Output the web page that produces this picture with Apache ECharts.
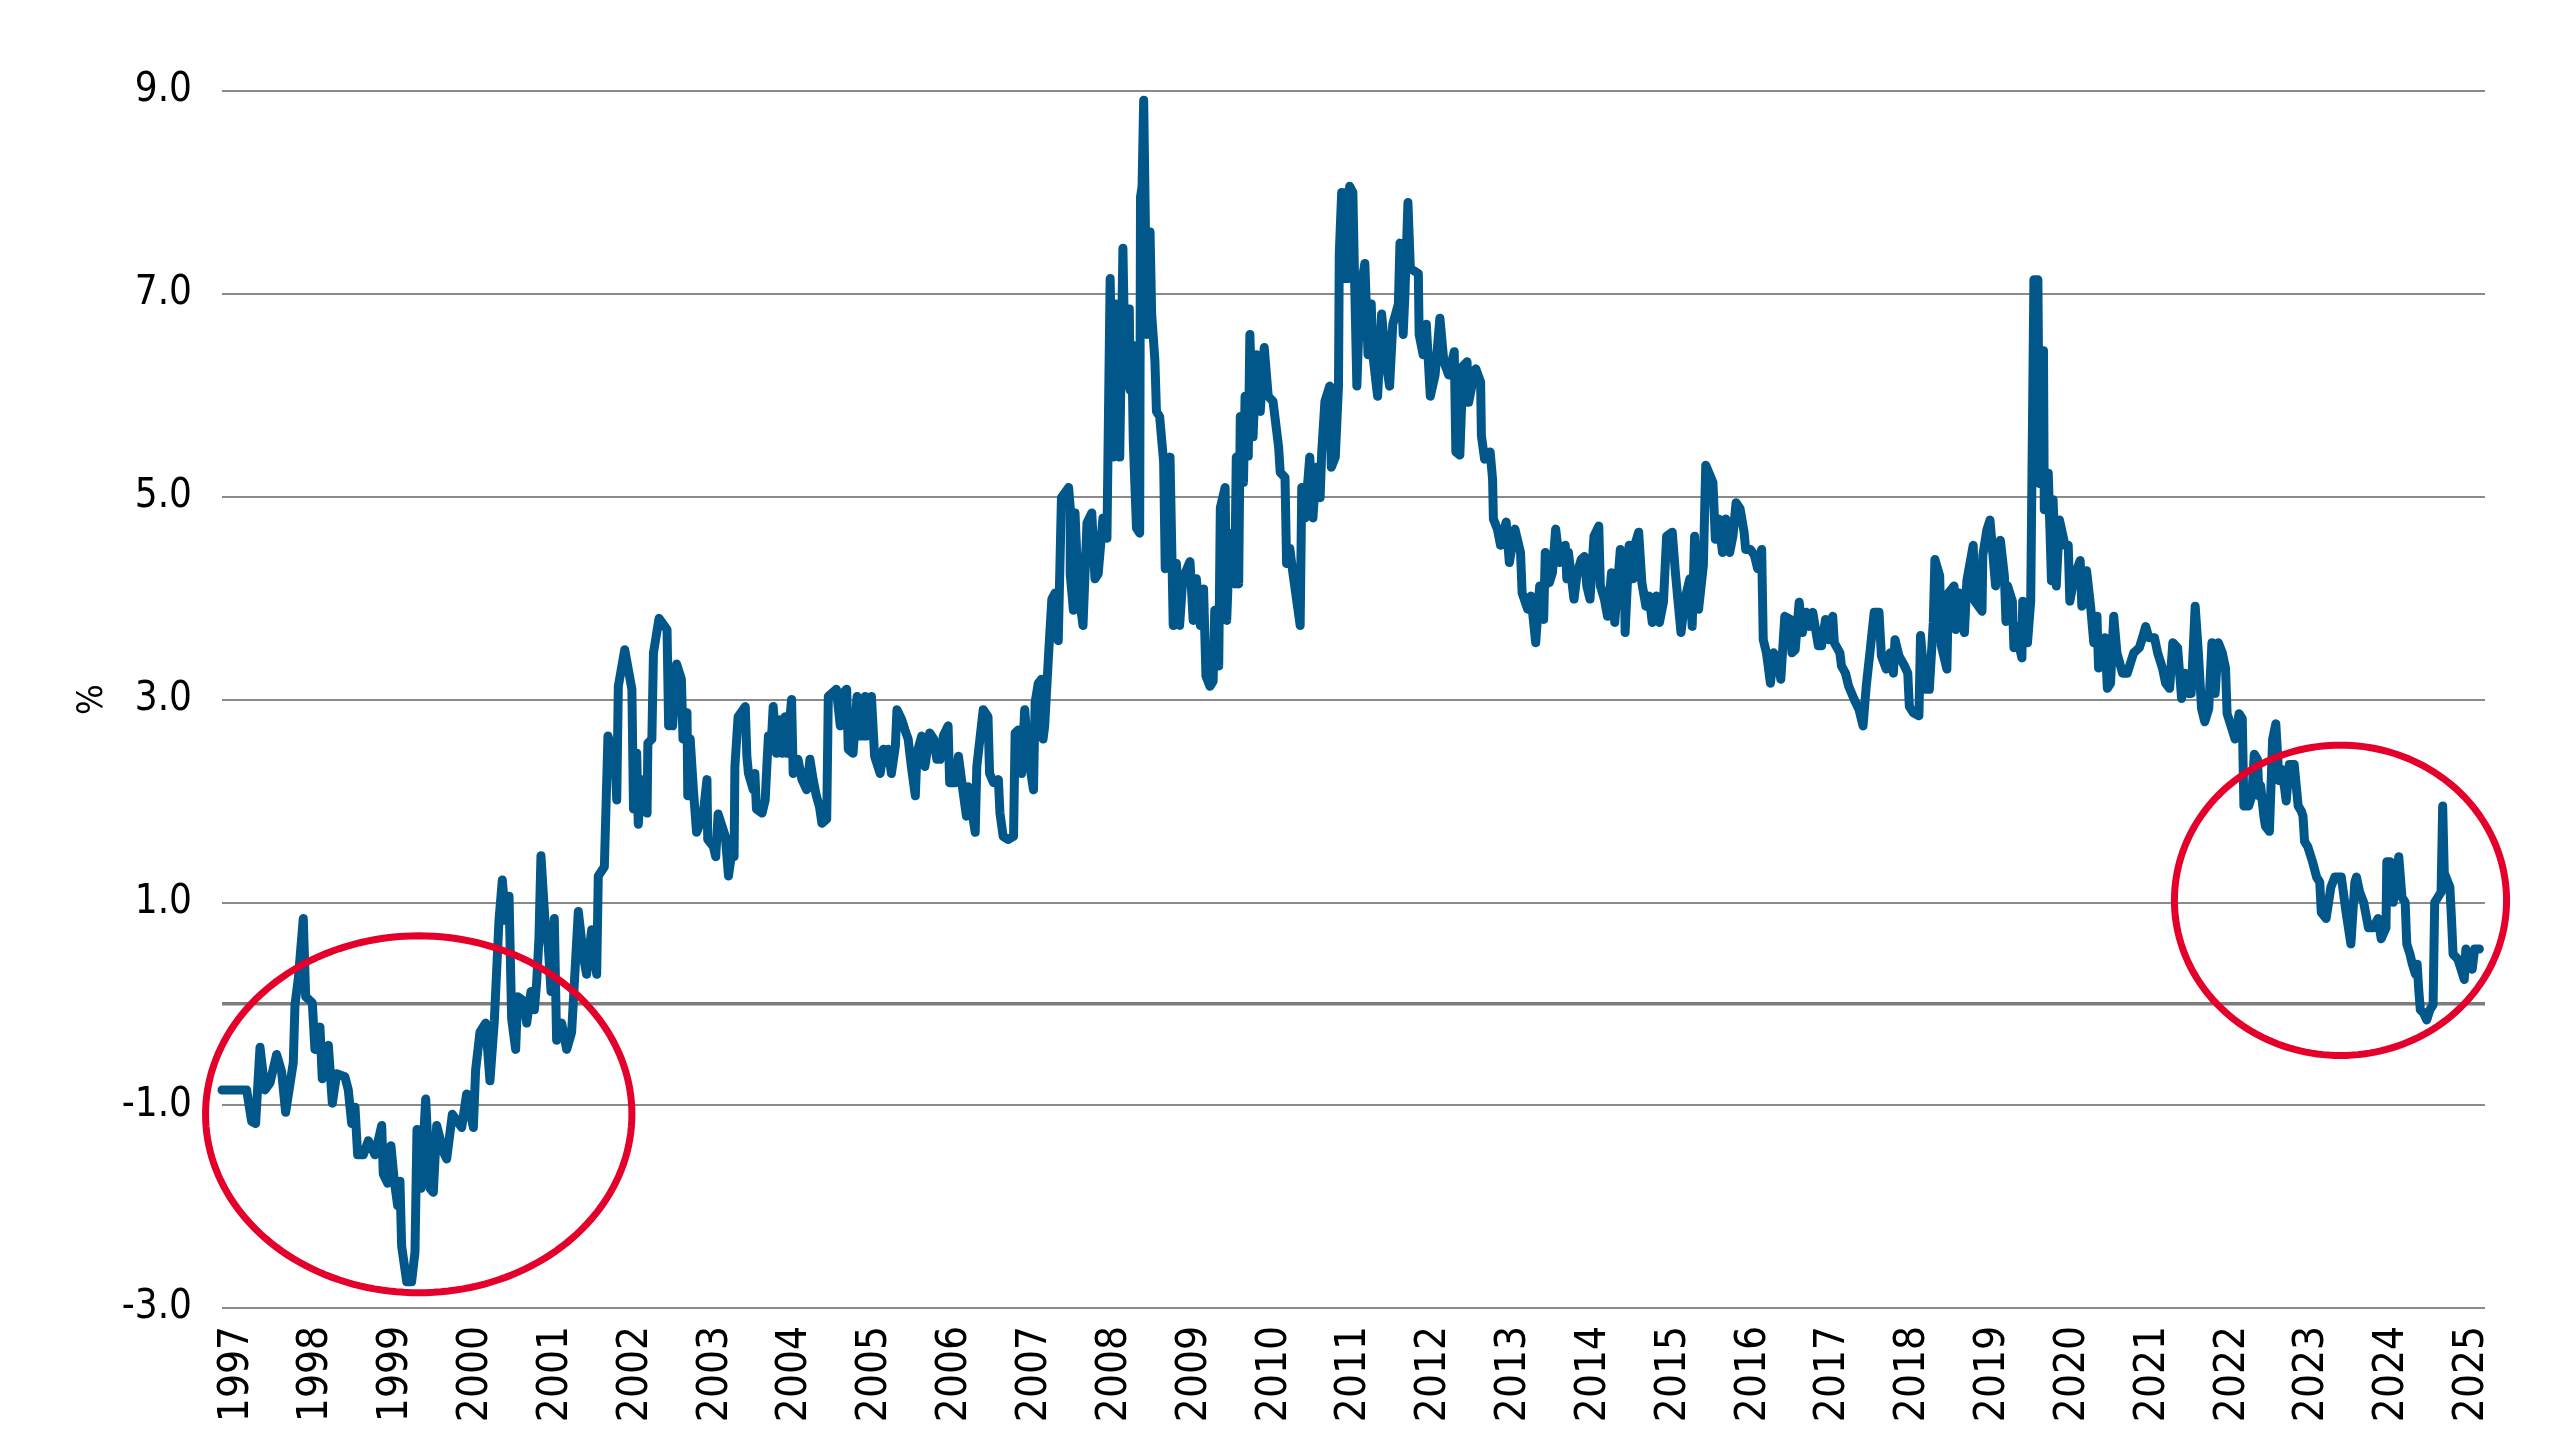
<!DOCTYPE html>
<html>
<head>
<meta charset="utf-8">
<script src="https://cdn.jsdelivr.net/npm/echarts@6/dist/echarts.min.js"></script>
<style>
html,body{margin:0;padding:0;background:#fff;}
#chart{width:2560px;height:1440px;}
</style>
</head>
<body>
<div id="chart"></div>
<script>
// ---- Data (decimal year, %) ----
const yearLabels = [1997,1998,1999,2000,2001,2002,2003,2004,2005,2006,2007,2008,2009,2010,2011,2012,2013,2014,2015,2016,2017,2018,2019,2020,2021,2022,2023,2024,2025];
const yTicks = [-3, -1, 1, 3, 5, 7, 9];

const s1997_2001 = [[1996.816,-0.85],[1997.125,-0.85],[1997.187,-1.16],[1997.237,-1.18],[1997.292,-0.43],[1997.354,-0.85],[1997.417,-0.78],[1997.500,-0.50],[1997.563,-0.67],[1997.613,-1.07],[1997.709,-0.58],[1997.730,-0.01],[1997.772,0.25],[1997.834,0.84],[1997.864,0.07],[1997.947,0.01],[1997.980,-0.45],[1998.043,-0.23],[1998.072,-0.74],[1998.148,-0.41],[1998.198,-0.98],[1998.252,-0.69],[1998.356,-0.72],[1998.398,-0.85],[1998.440,-1.18],[1998.482,-1.02],[1998.515,-1.49],[1998.586,-1.49],[1998.649,-1.35],[1998.732,-1.49],[1998.816,-1.20],[1998.836,-1.68],[1998.891,-1.77],[1998.932,-1.40],[1998.974,-1.75],[1999.016,-1.99],[1999.045,-1.75],[1999.066,-2.39],[1999.129,-2.74],[1999.191,-2.74],[1999.233,-2.45],[1999.258,-1.24],[1999.308,-1.82],[1999.367,-0.94],[1999.421,-1.82],[1999.463,-1.86],[1999.505,-1.20],[1999.588,-1.46],[1999.630,-1.53],[1999.701,-1.09],[1999.818,-1.22],[1999.880,-0.89],[1999.964,-1.22],[1999.993,-0.65],[2000.047,-0.28],[2000.118,-0.19],[2000.172,-0.76],[2000.227,-0.17],[2000.285,0.82],[2000.327,1.22],[2000.369,0.82],[2000.411,1.06],[2000.444,-0.15],[2000.494,-0.45],[2000.519,0.07],[2000.590,0.03],[2000.632,-0.19],[2000.686,0.12],[2000.728,-0.06],[2000.757,0.21],[2000.786,0.65],[2000.811,1.46],[2000.861,0.82],[2000.903,0.56],[2000.937,0.12],[2000.978,0.84],[2001.007,-0.36],[2001.070,-0.19],[2001.133,-0.45],[2001.195,-0.28],[2001.279,0.91],[2001.342,0.47],[2001.383,0.29],[2001.446,0.73],[2001.509,0.29],[2001.529,1.26],[2001.605,1.35]];

const s2001_2007 = [[2001.65,2.64],[2001.74,2.41],[2001.76,2.01],[2001.78,3.13],[2001.86,3.49],[2001.95,3.10],[2001.97,1.92],[2002.01,2.47],[2002.03,1.77],[2002.07,2.21],[2002.14,1.88],[2002.15,2.57],[2002.20,2.61],[2002.22,3.46],[2002.29,3.80],[2002.39,3.69],[2002.41,2.74],[2002.45,3.20],[2002.46,2.74],[2002.51,3.35],[2002.57,3.20],[2002.59,2.61],[2002.64,2.87],[2002.65,2.05],[2002.68,2.61],[2002.72,2.11],[2002.76,1.69],[2002.84,1.85],[2002.89,2.21],[2002.90,1.62],[2002.97,1.55],[2003.00,1.45],[2003.03,1.87],[2003.12,1.65],[2003.16,1.26],[2003.20,1.49],[2003.23,1.45],[2003.24,2.34],[2003.28,2.83],[2003.37,2.93],[2003.39,2.44],[2003.41,2.27],[2003.47,2.11],[2003.49,2.27],[2003.51,1.92],[2003.58,1.88],[2003.62,2.01],[2003.64,2.34],[2003.66,2.64],[2003.70,2.64],[2003.72,2.93],[2003.76,2.47],[2003.80,2.80],[2003.83,2.47],[2003.87,2.83],[2003.89,2.47],[2003.95,3.00],[2003.97,2.27],[2004.03,2.41],[2004.08,2.21],[2004.14,2.11],[2004.18,2.41],[2004.22,2.21],[2004.26,2.05],[2004.30,1.94],[2004.33,1.78],[2004.39,1.82],[2004.40,1.82],[2004.41,3.03],[2004.51,3.10],[2004.56,2.74],[2004.60,3.07],[2004.64,3.10],[2004.66,2.51],[2004.72,2.47],[2004.77,3.03],[2004.81,2.64],[2004.85,2.64],[2004.87,3.03],[2004.89,2.64],[2004.95,3.03],[2004.99,2.44],[2005.06,2.27],[2005.10,2.51],[2005.14,2.38],[2005.16,2.51],[2005.20,2.27],[2005.25,2.54],[2005.27,2.90],[2005.33,2.80],[2005.37,2.70],[2005.41,2.61],[2005.45,2.34],[2005.50,2.05],[2005.52,2.47],[2005.58,2.64],[2005.62,2.34],[2005.68,2.67],[2005.73,2.61],[2005.77,2.41],[2005.81,2.41],[2005.85,2.64],[2005.91,2.74],[2005.93,2.18],[2006.00,2.18],[2006.04,2.44],[2006.10,2.08],[2006.14,1.85],[2006.16,2.14],[2006.25,1.69],[2006.27,2.34],[2006.35,2.90],[2006.41,2.83],[2006.43,2.27],[2006.48,2.18],[2006.54,2.21],[2006.56,1.88],[2006.60,1.65],[2006.66,1.62],[2006.73,1.65],[2006.75,2.67],[2006.79,2.70],[2006.83,2.27],[2006.87,2.90],[2006.91,2.47],[2006.98,2.11],[2007.00,2.97],[2007.04,3.16],[2007.08,3.20],[2007.10,2.61],[2007.12,2.74],[2007.17,3.46],[2007.21,3.99],[2007.25,4.05]];

const s2007_2012 = [[2007.29,3.58],[2007.33,4.99],[2007.42,5.09],[2007.44,4.89],[2007.44,4.24],[2007.48,3.88],[2007.50,4.84],[2007.54,4.09],[2007.60,3.73],[2007.65,4.74],[2007.71,4.84],[2007.75,4.19],[2007.79,4.24],[2007.85,4.79],[2007.90,4.59],[2007.94,7.15],[2007.98,5.39],[2008.01,6.90],[2008.06,5.39],[2008.10,7.45],[2008.13,6.10],[2008.18,6.85],[2008.19,6.05],[2008.21,6.50],[2008.23,5.54],[2008.27,4.69],[2008.31,4.64],[2008.32,7.95],[2008.34,8.06],[2008.36,8.91],[2008.40,6.60],[2008.44,7.61],[2008.46,6.80],[2008.50,6.35],[2008.52,5.84],[2008.56,5.79],[2008.61,5.34],[2008.63,4.29],[2008.66,5.10],[2008.69,5.39],[2008.73,3.73],[2008.77,4.34],[2008.81,3.73],[2008.85,4.19],[2008.94,4.36],[2008.98,3.78],[2009.02,4.19],[2009.07,3.73],[2009.11,4.09],[2009.14,3.23],[2009.19,3.13],[2009.23,3.18],[2009.25,3.88],[2009.30,3.33],[2009.32,4.89],[2009.38,5.09],[2009.40,3.78],[2009.44,4.64],[2009.50,4.14],[2009.52,5.39],[2009.55,4.14],[2009.57,5.79],[2009.61,5.14],[2009.63,5.99],[2009.67,5.40],[2009.69,6.60],[2009.73,5.59],[2009.77,6.40],[2009.82,5.84],[2009.87,6.47],[2009.92,5.99],[2009.98,5.94],[2010.05,5.49],[2010.07,5.24],[2010.13,5.19],[2010.15,4.34],[2010.19,4.49],[2010.23,4.24],[2010.32,3.73],[2010.34,5.09],[2010.38,4.79],[2010.44,5.39],[2010.48,4.79],[2010.52,5.29],[2010.57,4.99],[2010.59,5.44],[2010.63,5.94],[2010.69,6.09],[2010.71,5.29],[2010.76,5.39],[2010.80,6.09],[2010.81,7.40],[2010.84,8.00],[2010.88,7.15],[2010.90,8.00],[2010.92,7.15],[2010.94,8.06],[2010.98,8.00],[2011.00,7.20],[2011.03,6.09],[2011.07,7.00],[2011.13,7.30],[2011.17,6.40],[2011.21,6.90],[2011.23,6.40],[2011.29,5.99],[2011.34,6.80],[2011.40,6.30],[2011.44,6.09],[2011.48,6.70],[2011.55,6.90],[2011.57,7.50],[2011.61,6.60],[2011.63,6.95],[2011.67,7.90],[2011.70,7.25],[2011.80,7.20],[2011.81,6.60],[2011.86,6.40],[2011.90,6.70],[2011.95,5.99],[2012.01,6.20]];

const s2012_2018 = [[2012.07,6.76],[2012.12,6.33],[2012.18,6.20],[2012.25,6.43],[2012.27,5.44],[2012.32,5.41],[2012.36,6.29],[2012.41,6.33],[2012.43,5.93],[2012.48,6.13],[2012.52,6.26],[2012.58,6.13],[2012.59,5.60],[2012.63,5.37],[2012.70,5.44],[2012.73,5.17],[2012.74,4.78],[2012.79,4.68],[2012.83,4.52],[2012.90,4.75],[2012.94,4.35],[2013.01,4.68],[2013.08,4.45],[2013.10,4.05],[2013.17,3.89],[2013.21,4.02],[2013.27,3.56],[2013.32,4.12],[2013.37,3.79],[2013.39,4.45],[2013.44,4.15],[2013.48,4.25],[2013.52,4.68],[2013.57,4.35],[2013.64,4.52],[2013.66,4.19],[2013.68,4.45],[2013.75,3.99],[2013.79,4.25],[2013.84,4.38],[2013.88,4.41],[2013.91,4.12],[2013.95,3.99],[2014.00,4.61],[2014.06,4.71],[2014.08,4.12],[2014.13,3.99],[2014.17,3.82],[2014.22,4.25],[2014.26,3.76],[2014.33,4.48],[2014.38,4.32],[2014.39,3.66],[2014.44,4.52],[2014.49,4.19],[2014.51,4.52],[2014.56,4.65],[2014.60,4.15],[2014.65,3.92],[2014.69,4.02],[2014.73,3.76],[2014.78,4.02],[2014.82,3.76],[2014.87,3.96],[2014.91,4.61],[2014.98,4.65],[2015.02,4.25],[2015.05,3.99],[2015.09,3.66],[2015.14,3.99],[2015.20,4.19],[2015.23,3.72],[2015.26,4.61],[2015.31,3.89],[2015.37,4.32],[2015.40,5.31],[2015.49,5.14],[2015.52,4.58],[2015.56,4.78],[2015.61,4.45],[2015.65,4.78],[2015.70,4.45],[2015.74,4.61],[2015.78,4.94],[2015.83,4.88],[2015.88,4.65],[2015.90,4.48],[2015.96,4.48],[2016.01,4.42],[2016.05,4.29],[2016.10,4.48],[2016.12,3.59],[2016.16,3.46],[2016.21,3.16],[2016.25,3.46],[2016.30,3.40],[2016.34,3.20],[2016.39,3.82],[2016.46,3.79],[2016.48,3.46],[2016.52,3.49],[2016.57,3.96],[2016.61,3.66],[2016.66,3.86],[2016.70,3.72],[2016.74,3.86],[2016.81,3.53],[2016.85,3.53],[2016.90,3.79],[2016.94,3.59],[2016.99,3.82],[2017.01,3.56],[2017.08,3.46],[2017.10,3.33],[2017.15,3.26],[2017.19,3.13],[2017.26,3.00],[2017.32,2.90],[2017.37,2.74],[2017.41,3.13],[2017.46,3.49],[2017.51,3.86],[2017.57,3.86],[2017.60,3.43],[2017.66,3.30],[2017.71,3.46],[2017.75,3.26],[2017.77,3.59],[2017.82,3.43],[2017.89,3.33],[2017.93,3.26],[2017.95,2.93],[2018.00,2.87],[2018.07,2.84],[2018.09,3.63],[2018.15,3.10],[2018.20,3.10],[2018.25,3.76],[2018.27,4.38],[2018.33,4.22],[2018.35,3.53],[2018.42,3.30],[2018.44,4.05],[2018.51,4.12],[2018.53,3.69],[2018.57,4.05]];

const s2018_2025 = [[2018.64,3.66],[2018.67,4.17],[2018.75,4.52],[2018.77,3.97],[2018.86,3.87],[2018.87,4.42],[2018.92,4.67],[2018.96,4.77],[2019.03,4.12],[2019.07,4.52],[2019.09,4.57],[2019.14,4.22],[2019.16,3.77],[2019.18,4.12],[2019.24,3.97],[2019.26,3.51],[2019.30,3.72],[2019.33,3.51],[2019.36,3.41],[2019.37,3.97],[2019.43,3.56],[2019.47,3.97],[2019.51,7.14],[2019.56,7.14],[2019.58,5.13],[2019.63,6.44],[2019.64,4.87],[2019.69,5.23],[2019.73,4.17],[2019.75,4.97],[2019.79,4.12],[2019.83,4.77],[2019.90,4.52],[2019.94,4.52],[2019.96,3.97],[2020.02,4.22],[2020.09,4.37],[2020.11,3.92],[2020.17,4.27],[2020.22,3.92],[2020.26,3.56],[2020.30,3.82],[2020.32,3.31],[2020.36,3.56],[2020.40,3.61],[2020.43,3.11],[2020.47,3.16],[2020.51,3.82],[2020.55,3.46],[2020.62,3.26],[2020.68,3.26],[2020.72,3.36],[2020.76,3.46],[2020.83,3.51],[2020.87,3.61],[2020.91,3.72],[2020.95,3.61],[2021.02,3.61],[2021.06,3.46],[2021.12,3.31],[2021.16,3.16],[2021.21,3.11],[2021.25,3.56],[2021.31,3.51],[2021.36,3.01],[2021.40,3.26],[2021.44,3.06],[2021.48,3.06],[2021.53,3.92],[2021.57,3.46],[2021.61,2.91],[2021.65,2.78],[2021.70,2.91],[2021.74,3.56],[2021.78,3.06],[2021.82,3.56],[2021.87,3.46],[2021.91,3.31],[2021.93,2.86],[2021.99,2.71],[2022.03,2.61],[2022.08,2.86],[2022.12,2.81],[2022.14,1.95],[2022.20,1.95],[2022.24,2.05],[2022.27,2.46],[2022.31,2.41],[2022.33,2.05],[2022.35,2.15],[2022.39,1.85],[2022.41,1.75],[2022.46,1.70],[2022.50,2.61],[2022.54,2.76],[2022.58,2.20],[2022.62,2.31],[2022.67,2.00],[2022.71,2.36],[2022.77,2.36],[2022.82,1.95],[2022.86,1.90],[2022.88,1.85],[2022.90,1.60],[2022.94,1.55],[2023.00,1.40],[2023.05,1.25],[2023.09,1.20],[2023.11,0.90],[2023.17,0.84],[2023.23,1.15],[2023.28,1.25],[2023.36,1.25],[2023.42,0.90],[2023.48,0.59],[2023.53,1.20],[2023.55,1.25],[2023.59,1.10],[2023.64,1.00],[2023.70,0.75],[2023.76,0.75],[2023.82,0.84],[2023.86,0.64],[2023.92,0.75],[2023.93,1.40],[2023.97,1.40],[2024.01,1.00],[2024.08,1.45],[2024.12,1.05],[2024.16,1.00],[2024.18,0.59],[2024.22,0.49],[2024.25,0.39],[2024.29,0.29],[2024.31,0.39],[2024.33,0.14],[2024.35,-0.06],[2024.39,-0.09],[2024.43,-0.16],[2024.47,-0.06],[2024.51,-0.01],[2024.53,1.00],[2024.61,1.10],[2024.63,1.95],[2024.65,1.29],[2024.72,1.15],[2024.74,0.84],[2024.76,0.49],[2024.82,0.44],[2024.86,0.34],[2024.90,0.24],[2024.92,0.54],[2024.96,0.44],[2025.00,0.34],[2025.03,0.54],[2025.09,0.54]];

// annotation ellipses (data-space centre and radii)
const ellipseCenters = [[1999.28, -1.09], [2023.35, 1.02]];
const ellipseRadii = [[2.67, 1.76], [2.08, 1.53]];

const X_MIN = 1996.816, X_MAX = 2025.16;
const zeroLine = [[X_MIN, 0], [X_MAX, 0]];

const series = [].concat(s1997_2001, s2001_2007, s2007_2012, s2012_2018, s2018_2025);

const FONT = "'Liberation Sans Narrow', 'DejaVu Sans Condensed', 'Roboto Condensed', 'Liberation Sans', sans-serif";

const chart = echarts.init(document.getElementById('chart'), null, {renderer: 'canvas'});
chart.setOption({
  animation: false,
  backgroundColor: '#ffffff',
  grid: {left: 222, right: 75, top: 91, bottom: 132, containLabel: false},
  xAxis: {
    type: 'value', min: X_MIN, max: X_MAX,
    axisLine: {show: false}, axisTick: {show: false}, splitLine: {show: false},
    axisLabel: {
      customValues: yearLabels,
      formatter: v => String(Math.round(v)),
      rotate: 90, margin: 18, fontSize: 42, color: '#000', fontFamily: FONT
    }
  },
  yAxis: {
    type: 'value', min: -3, max: 9, interval: 2,
    name: '%', nameLocation: 'middle', nameGap: 108,
    nameTextStyle: {fontSize: 36, color: '#000', fontFamily: FONT},
    axisLine: {show: false}, axisTick: {show: false},
    splitLine: {show: true, lineStyle: {color: '#8a8a8a', width: 2}},
    axisLabel: {formatter: v => v.toFixed(1), margin: 30, fontSize: 40, color: '#000', fontFamily: FONT}
  },
  series: [
    {type: 'line', data: zeroLine, showSymbol: false, silent: true, z: 1,
     lineStyle: {color: '#7c7c7c', width: 3.5}},
    {type: 'line', data: series, showSymbol: false, z: 3, sampling: null,
     lineStyle: {color: '#02578A', width: 9, join: 'round', cap: 'round'}}
  ]
});

// Red annotation ellipses, positioned in data space
const graphics = ellipseCenters.map((c, i) => {
  const p = chart.convertToPixel({gridIndex: 0}, c);
  const px = chart.convertToPixel({gridIndex: 0}, [c[0] + ellipseRadii[i][0], c[1] + ellipseRadii[i][1]]);
  const rx = Math.abs(px[0] - p[0]), ry = Math.abs(px[1] - p[1]);
  const pts = [];
  for (let k = 0; k < 180; k++) {
    const a = k / 180 * Math.PI * 2;
    pts.push([p[0] + rx * Math.cos(a), p[1] + ry * Math.sin(a)]);
  }
  return {type: 'polygon', z: 100, shape: {points: pts},
          style: {fill: null, stroke: '#E4002B', lineWidth: 7}};
});
chart.setOption({graphic: graphics});
</script>
</body>
</html>
